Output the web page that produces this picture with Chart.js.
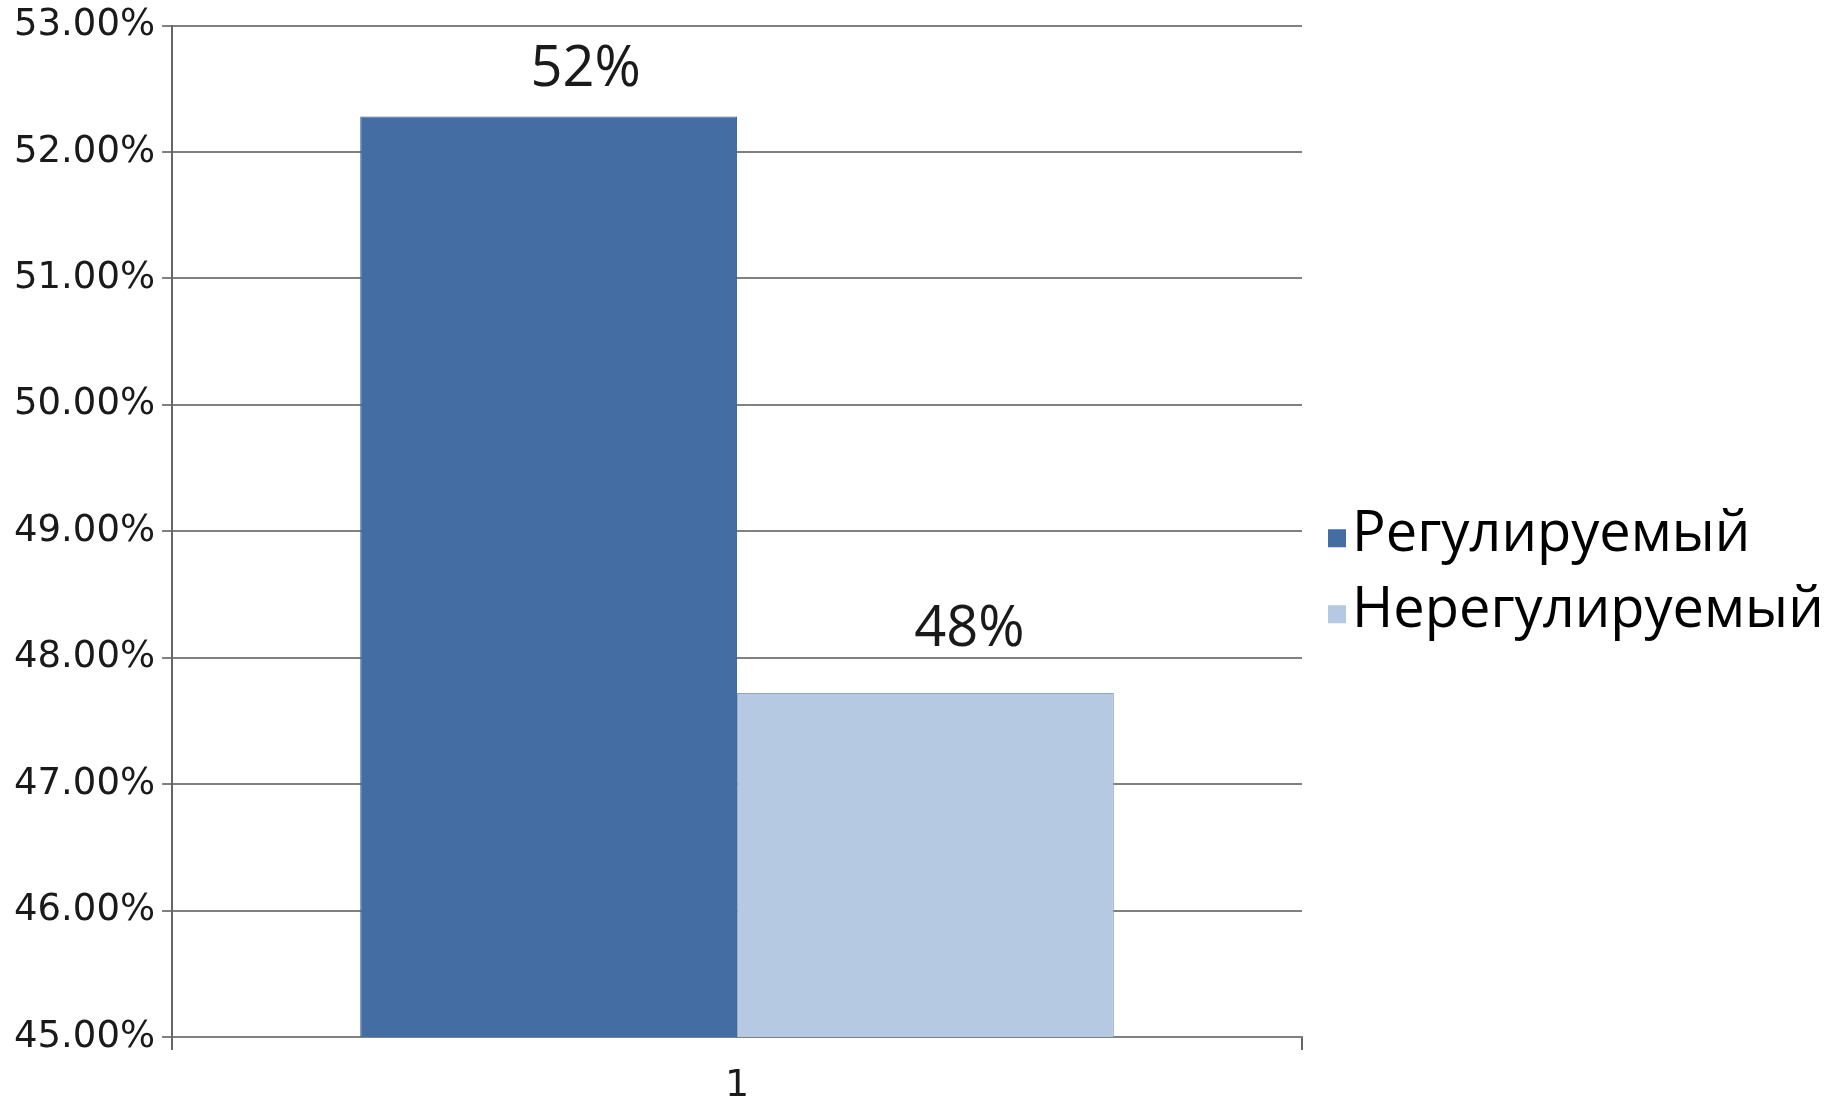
<!DOCTYPE html>
<html lang="ru">
<head>
<meta charset="UTF-8">
<title>Регулируемый / Нерегулируемый</title>
<script src="https://cdn.jsdelivr.net/npm/chart.js"></script>
<style>
  body { margin: 0; background: #fff; }
  #wrap { width: 1831px; height: 1101px; }
</style>
</head>
<body>
<div id="wrap"><canvas id="chart" width="1831" height="1101"></canvas></div>
<script>
// данные
const categories = ['1'];
const seriesNames = ['Регулируемый', 'Нерегулируемый'];
const regulated = [52.28];
const unregulated = [47.72];
const yTicks = [45, 46, 47, 48, 49, 50, 51, 52, 53];

const colors = ['#436da3', '#b5c9e2'];

// подписи над столбцами (сдвиги как на исходной диаграмме)
const valueLabels = {
  id: 'valueLabels',
  afterDatasetsDraw(chart, args, opts) {
    const ctx = chart.ctx;
    ctx.save();
    ctx.font = '56px "Open Sans"';
    ctx.fillStyle = '#1a1a1a';
    ctx.textAlign = 'center';
    ctx.textBaseline = 'alphabetic';
    chart.data.datasets.forEach((ds, i) => {
      const off = opts.offsets[i];
      chart.getDatasetMeta(i).data.forEach((bar, j) => {
        ctx.fillText(Math.round(ds.data[j]) + '%', bar.x + off[0], bar.y - off[1]);
      });
    });
    ctx.restore();
  }
};

// легенда справа, как в Excel
const sideLegend = {
  id: 'sideLegend',
  afterDraw(chart) {
    const ctx = chart.ctx;
    const area = chart.chartArea;
    const x = area.right + 26;
    const mid = (area.top + area.bottom) / 2 + 42;
    const rowH = 76;
    const n = chart.data.datasets.length;
    ctx.save();
    ctx.font = '56px "Open Sans"';
    ctx.textBaseline = 'middle';
    chart.data.datasets.forEach((ds, i) => {
      const y = mid + (i - (n - 1) / 2) * rowH;
      ctx.fillStyle = ds.backgroundColor;
      ctx.fillRect(x, y - 6, 18, 18);
      ctx.fillStyle = '#000';
      ctx.fillText(ds.label, x + 24, y);
    });
    ctx.restore();
  }
};

new Chart(document.getElementById('chart'), {
  type: 'bar',
  data: {
    labels: categories,
    datasets: [
      {
        label: seriesNames[0],
        data: regulated,
        backgroundColor: colors[0],
        borderColor: '#3d6597',
        borderWidth: 1
      },
      {
        label: seriesNames[1],
        data: unregulated,
        backgroundColor: colors[1],
        borderColor: '#8ea6c4',
        borderWidth: 1
      }
    ]
  },
  options: {
    responsive: false,
    animation: false,
    devicePixelRatio: 1,
    layout: { padding: { top: 5, right: 529, left: 7, bottom: 0 } },
    datasets: { bar: { categoryPercentage: 0.667, barPercentage: 1 } },
    scales: {
      x: {
        afterFit: s => { s.height = 64; },
        grid: { drawOnChartArea: false, tickLength: 13, color: '#666', lineWidth: 2 },
        border: { color: '#808080', width: 2 },
        ticks: { font: { family: 'DejaVu Sans', size: 38, lineHeight: '44px' }, color: '#1a1a1a', padding: 14 }
      },
      y: {
        min: 45,
        max: 53,
        afterBuildTicks: axis => { axis.ticks = yTicks.map(v => ({ value: v })); },
        grid: { color: '#808080', lineWidth: 2, tickLength: 10 },
        border: { color: '#666', width: 2 },
        ticks: {
          font: { family: 'DejaVu Sans', size: 37, lineHeight: 1 },
          color: '#1a1a1a',
          padding: 7,
          callback: v => v.toFixed(2) + '%'
        }
      }
    },
    plugins: {
      legend: { display: false },
      tooltip: { enabled: false },
      valueLabels: { offsets: [[37, 31], [44, 47]] }
    }
  },
  plugins: [valueLabels, sideLegend]
});
</script>
</body>
</html>
